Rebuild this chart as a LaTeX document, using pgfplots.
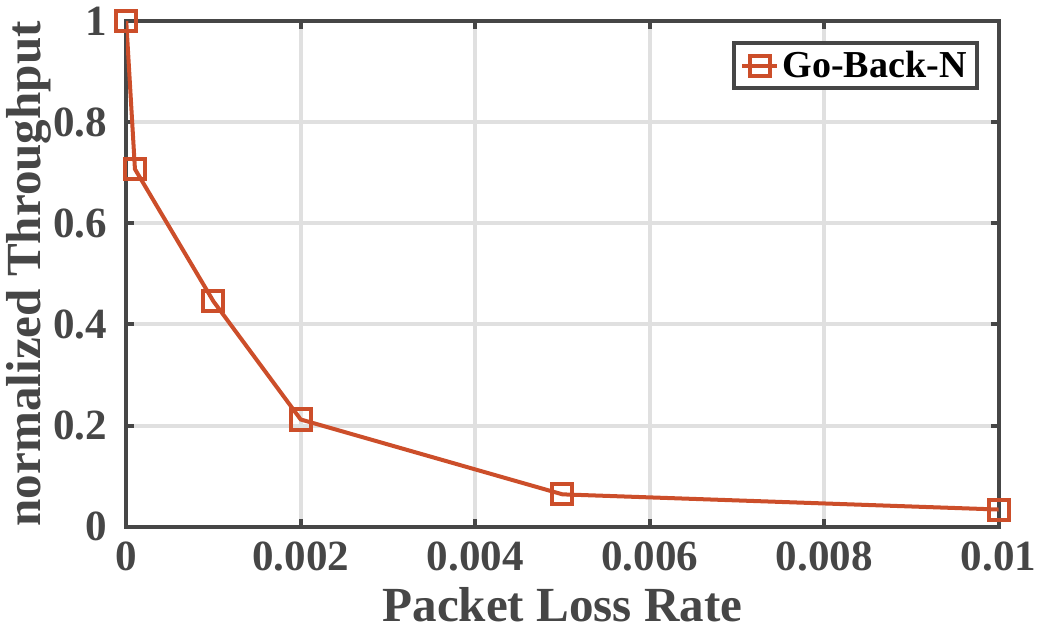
\documentclass[border=0pt]{standalone}
\usepackage{pgfplots}
\pgfplotsset{compat=1.18}
\usepackage{fontspec}
\setmainfont{Liberation Serif}
\definecolor{linecol}{RGB}{204,78,42}
\definecolor{txt}{RGB}{70,70,70}
\definecolor{gridc}{RGB}{224,224,224}
\begin{document}
\begin{tikzpicture}
\begin{axis}[
  width=435.5pt, height=252.5pt, scale only axis,
  xmin=0, xmax=0.01, ymin=0, ymax=1,
  xtick={0,0.002,0.004,0.006,0.008,0.01},
  xticklabels={0,0.002,0.004,0.006,0.008,0.01},
  ytick={0,0.2,0.4,0.6,0.8,1},
  yticklabels={0,0.2,0.4,0.6,0.8,1},
  scaled x ticks=false,
  /pgf/number format/assume math mode=true,
  tick label style={font=\fontsize{21.5}{23}\selectfont\bfseries, text=txt},
  xticklabel style={yshift=-4pt},
  yticklabel style={xshift=-6pt},
  tick align=inside, major tick length=4pt,
  tick style={draw=txt, line width=2pt},
  axis line style={draw=txt, line width=2pt},
  grid=major,
  major grid style={draw=gridc, line width=2pt},
  xlabel={Packet Loss Rate},
  ylabel={normalized Throughput},
  label style={font=\fontsize{24.5}{26}\selectfont\bfseries, text=txt},
  xlabel style={inner ysep=3pt, yshift=-1.5pt},
  ylabel style={yshift=-6pt},
  legend style={at={(1,1)}, xshift=-10pt, yshift=-10pt, anchor=north east,
    draw=txt, line width=2pt, font=\fontsize{19}{21}\selectfont\bfseries,
    inner xsep=3pt, inner ysep=2pt},
  legend cell align=left,
]
\addplot[color=linecol, line width=2pt, mark=square, mark size=5pt,
  mark options={line width=2pt, solid}]
  coordinates {(0,1) (0.0001,0.707) (0.001,0.4455) (0.002,0.212) (0.005,0.064) (0.01,0.034)};
\addlegendentry{\textcolor{black}{Go-Back-N}}
\end{axis}
\end{tikzpicture}
\end{document}
